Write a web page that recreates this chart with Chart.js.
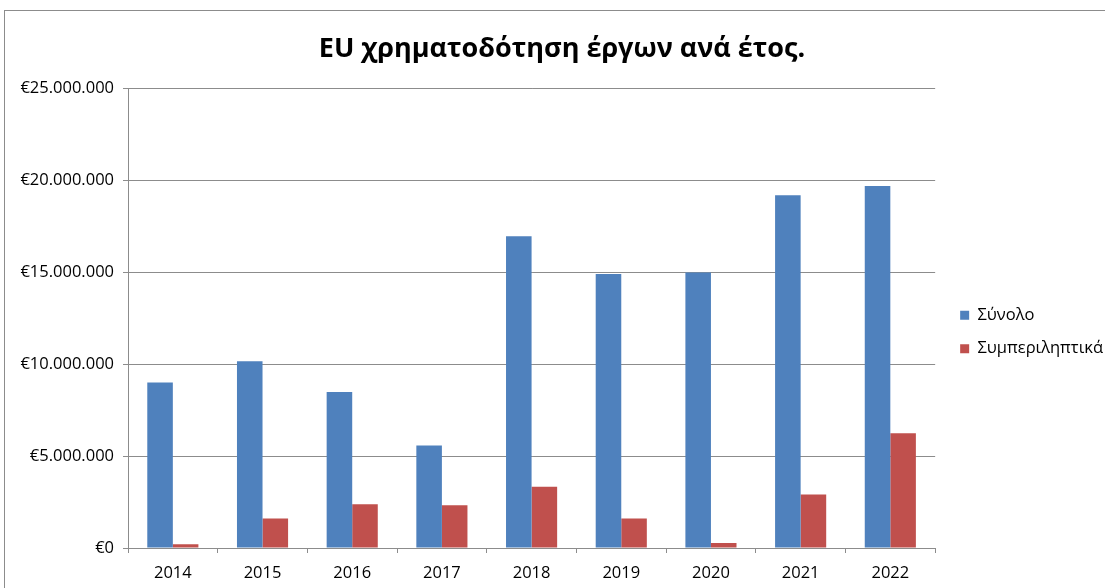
<!DOCTYPE html>
<html>
<head>
<meta charset="utf-8">
<script src="https://cdn.jsdelivr.net/npm/chart.js@4"></script>
<style>
  html, body { margin: 0; padding: 0; background: #fff; overflow: hidden; }
  #frame { position: absolute; left: 4px; top: 10px; width: 1200px; height: 700px; border: 1px solid #8c8c8c; box-sizing: border-box; }
  #wrap { position: absolute; left: 0; top: 0; width: 1105px; height: 588px; }
</style>
</head>
<body>
<div id="frame"></div>
<div id="wrap"><canvas id="c" width="1105" height="588"></canvas></div>
<script>
const title = 'EU χρηματοδότηση έργων ανά έτος.';
const years = ['2014', '2015', '2016', '2017', '2018', '2019', '2020', '2021', '2022'];
const seriesNames = ['Σύνολο', 'Συμπεριληπτικά'];
const total = [9000000, 10160000, 8480000, 5570000, 16960000, 14900000, 14990000, 19190000, 19690000];
const inclusive = [210000, 1610000, 2380000, 2320000, 3330000, 1610000, 270000, 2910000, 6240000];
const yTicks = [0, 5000000, 10000000, 15000000, 20000000, 25000000];

const FONT = '"Open Sans", "Noto Sans", sans-serif';
const GRID = '#8c8c8c';

function euro(v) {
  return '€' + Math.round(v).toString().replace(/\B(?=(\d{3})+(?!\d))/g, '.');
}

const shiftLegend = {
  id: 'shiftLegend',
  afterLayout(chart) {
    chart.legend.top += 33;
    chart.legend.bottom += 33;
    chart.legend.left += 8;
    chart.legend.right += 8;
  }
};

new Chart(document.getElementById('c'), {
  type: 'bar',
  data: {
    labels: years,
    datasets: [
      { label: seriesNames[0], data: total, backgroundColor: '#4F81BD' },
      { label: seriesNames[1], data: inclusive, backgroundColor: '#C0504D' }
    ]
  },
  options: {
    responsive: false,
    animation: false,
    devicePixelRatio: 1,
    layout: { padding: { left: 19, right: 0, top: 10, bottom: 0 } },
    datasets: { bar: { categoryPercentage: 0.57, barPercentage: 1.0 } },
    plugins: {
      title: {
        display: true,
        text: title,
        color: '#000',
        font: { family: FONT, size: 27, weight: 'bold' },
        padding: { top: 23, bottom: 23 }
      },
      legend: {
        position: 'right',
        labels: {
          boxWidth: 9, boxHeight: 9,
          color: '#000',
          font: { family: FONT, size: 16.5 },
          padding: 17
        }
      },
      tooltip: { enabled: false }
    },
    scales: {
      x: {
        afterFit(axis) { axis.height = 40; },
        grid: { offset: true, drawOnChartArea: false, drawTicks: true, tickLength: 5, color: GRID },
        border: { display: true, color: GRID },
        ticks: { color: '#000', font: { family: FONT, size: 16.5, lineHeight: 1.0 }, padding: 12 }
      },
      y: {
        min: 0, max: 25000000,
        afterFit(axis) { axis.width = 109; },
        afterBuildTicks(axis) { axis.ticks = yTicks.map(v => ({ value: v })); },
        grid: { color: GRID, tickLength: 5 },
        border: { display: true, color: GRID },
        ticks: { color: '#000', font: { family: FONT, size: 16.5 }, padding: 9, callback: v => euro(v) }
      }
    }
  },
  plugins: [shiftLegend]
});
</script>
</body>
</html>
